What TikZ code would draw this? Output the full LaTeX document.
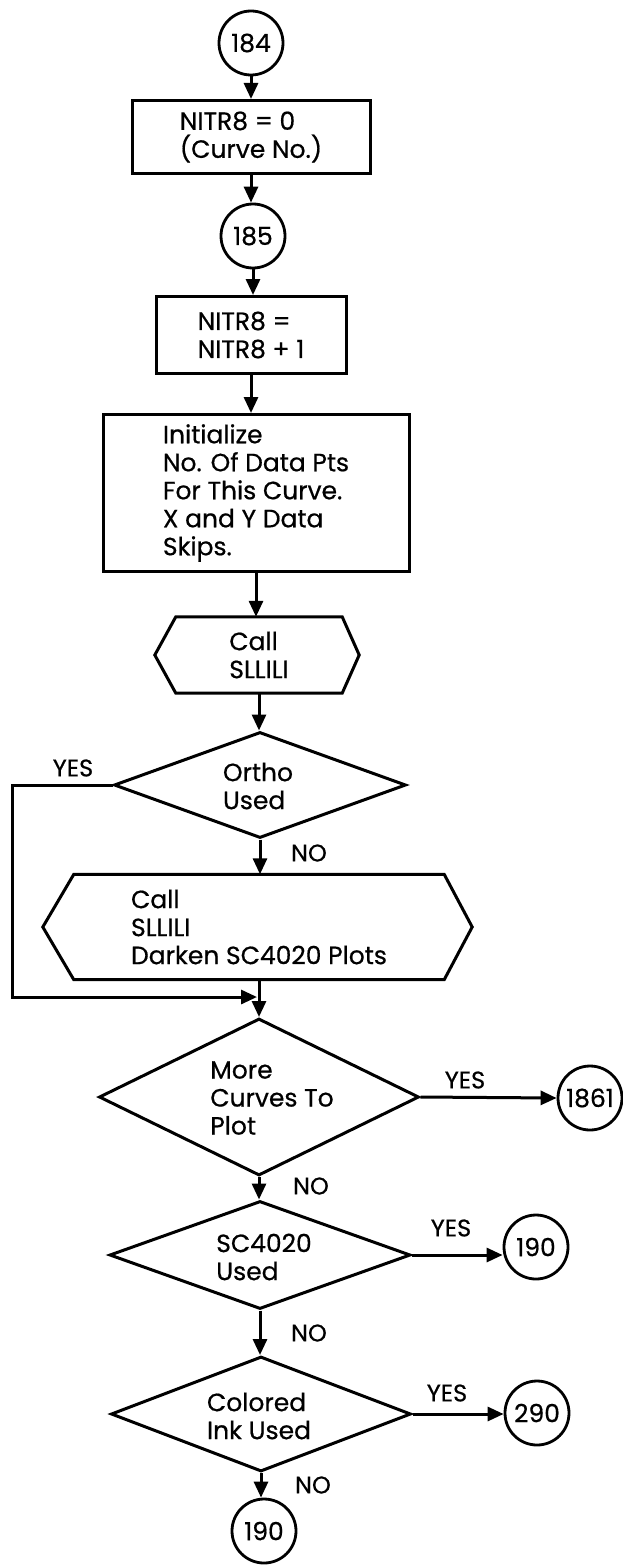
\documentclass[tikz,border=0pt]{standalone}
\usepackage{fontspec}
\setmainfont{Poppins}[FakeBold=0.6]
\usetikzlibrary{arrows.meta,shapes.geometric}

\tikzset{
  x=1pt, y=-1pt,
  bodyfont/.style={font=\fontsize{25}{28}\selectfont},
  txt/.style={bodyfont, inner sep=0pt, align=left},
  outline/.style={draw, line width=3pt, line join=miter},
  flow/.style={line width=3pt, -{Triangle[length=16pt,width=14pt]}},
  conn/.style={circle, draw, line width=2.8pt, minimum size=64pt, inner sep=0pt,
               font=\fontsize{25}{28}\selectfont},
  proc/.style={rectangle, outline, inner sep=0pt, align=left, bodyfont},
  decide/.style={diamond, outline, inner sep=0pt},
  hexframe/.style={rectangle, inner sep=0pt, align=left, bodyfont},
  lbl/.style={font=\fontsize{24}{28}\selectfont, inner sep=0pt},
}

\begin{document}
\begin{tikzpicture}
\useasboundingbox (0,0) rectangle (623,1565);

% ---- entry and initialisation ----
\node[conn] (c184) at (251,43) {184};
\node[proc, minimum width=238pt, minimum height=73pt] (b1) at (251,137)
  {NITR8 = 0\\(Curve No.)};
\node[conn] (c185) at (253,236) {185};
\node[proc, minimum width=190pt, minimum height=77pt] (b2) at (251,335)
  {NITR8 =\\NITR8 + 1};
\node[proc, minimum width=306pt, minimum height=157pt] (b3) at (256,493)
  {Initialize\\No. Of Data Pts\\For This Curve.\\X and Y Data\\Skips.};

% ---- first subroutine call (hexagon) ----
\node[hexframe, minimum width=166pt, minimum height=76pt] (h1) at (259,655)
  {Call\\SLLILI};
\draw[outline] (h1.north west) -- (h1.north east) -- ([xshift=17pt]h1.east)
  -- (h1.south east) -- (h1.south west) -- ([xshift=-21pt]h1.west) -- cycle;

% ---- Ortho decision ----
\node[decide, minimum width=292pt, minimum height=106pt] (d1) at (260,785) {};
\node[txt] (d1t) at (258,786) {Ortho\\Used};

% ---- second subroutine call (wide hexagon) ----
\node[hexframe, minimum width=370pt, minimum height=105pt] (h2) at (259,927)
  {Call\\SLLILI\\Darken SC4020 Plots};
\draw[outline] (h2.north west) -- (h2.north east) -- ([xshift=28pt]h2.east)
  -- (h2.south east) -- (h2.south west) -- ([xshift=-31pt]h2.west) -- cycle;

% ---- remaining decisions ----
\node[decide, minimum width=320pt, minimum height=157pt] (d2) at (259,1097) {};
\node[txt] (d2t) at (272,1098) {More\\Curves To\\Plot};
\node[decide, minimum width=301pt, minimum height=108pt] (d3) at (260,1255) {};
\node[txt] (d3t) at (264,1257) {SC4020\\Used};
\node[decide, minimum width=300pt, minimum height=115pt] (d4) at (261,1414) {};
\node[txt] (d4t) at (259,1416) {Colored\\Ink Used};

% ---- off-page connectors ----
\node[conn] (c1861) at (590,1098) {1861};
\node[conn] (c190a) at (536,1247) {190};
\node[conn] (c290) at (537,1413) {290};
\node[conn] (c190b) at (264,1531) {190};

% ---- main flow ----
\draw[flow] (c184) -- (c184 |- b1.north);
\draw[flow] (b1) -- (b1 |- c185.north);
\draw[flow] (c185) -- (c185 |- b2.north);
\draw[flow] (b2.south) -- (b2.south |- b3.north);
\draw[flow] (b3.south) -- (b3.south |- h1.north);
\draw[flow] (h1.south) -- (h1.south |- d1.north);
\draw[flow] (d1.south) -- (d1.south |- h2.north);
\draw[flow] (h2.south) -- (h2.south |- d2.north);
\draw[flow] (d2.south) -- (d2.south |- d3.north);
\draw[flow] (d3.south) -- (d3.south |- d4.north);
\draw[flow] (d4.south) -- (d4.south |- c190b.north);

% ---- YES branches ----
\coordinate (loopTop) at (12,785);
\coordinate (loopBot) at (12,997);
\coordinate (merge) at (257,997);
\draw[flow] (d1.west) -- (loopTop) -- (loopBot) -- (merge);
\draw[flow] (d2.east) -- (c1861.west);
\draw[flow] (d3.east) -- (d3.east -| c190a.west);
\draw[flow] (d4.east) -- (d4.east -| c290.west);

% ---- branch labels ----
\node[lbl] (y1) at (73,768) {YES};
\node[lbl] (n1) at (309,853) {NO};
\node[lbl] (y2) at (465,1080) {YES};
\node[lbl] (n2) at (311,1186) {NO};
\node[lbl] (y3) at (451,1228) {YES};
\node[lbl] (n3) at (309,1333) {NO};
\node[lbl] (y4) at (447,1393) {YES};
\node[lbl] (n4) at (313,1485) {NO};
\end{tikzpicture}
\end{document}
